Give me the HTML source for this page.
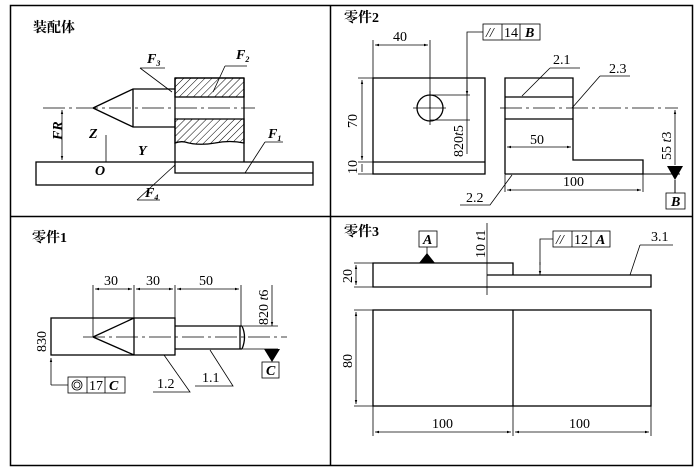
<!DOCTYPE html>
<html><head><meta charset="utf-8"><style>
body{margin:0;background:#fff}
svg{display:block}
text{font-family:"Liberation Serif","Noto Serif CJK SC",serif;font-size:14px;fill:#000}
.t{font-family:"Liberation Serif","Noto Serif CJK SC",serif;font-size:14px;font-weight:bold}
.i{font-style:italic;font-weight:bold}
</style></head><body>
<svg width="700" height="469" viewBox="0 0 700 469" xmlns="http://www.w3.org/2000/svg">
<defs>
<marker id="a" viewBox="0 0 10 10" refX="10" refY="5" markerWidth="7" markerHeight="5" orient="auto-start-reverse"><path d="M0,2 L10,5 L0,8z" fill="#000"/></marker>
<pattern id="h" width="5" height="5" patternUnits="userSpaceOnUse" patternTransform="rotate(45)"><line x1="0" y1="0" x2="0" y2="5" stroke="#000" stroke-width="1"/></pattern>
</defs>
<g fill="none" stroke="#000">
<rect x="10.5" y="5.5" width="682" height="460" stroke-width="1.5"/>
<line x1="330.5" y1="5" x2="330.5" y2="466" stroke-width="1.5"/>
<line x1="10" y1="216.5" x2="693" y2="216.5" stroke-width="1.5"/>
</g>
<!-- Panel 1 -->
<text class="t" x="33" y="32">装配体</text>
<g fill="none" stroke="#000" stroke-width="1.3">
<rect x="36" y="162" width="277" height="23"/>
<rect x="175" y="78" width="69" height="19" fill="url(#h)"/>
<path d="M175,119 H244 V143 Q230,140 215,143 Q198,146 185,142 Q180,141 175,143z" fill="url(#h)"/>
<path d="M175,78 V173 H313 M244,78 V162 M175,78 H244"/>
<path d="M93,108 L133,89 H175 M93,108 L133,127 H175 M133,89 V127"/>
</g>
<g stroke="#000" stroke-width="0.8" fill="none">
<line x1="43" y1="108" x2="255" y2="108" stroke-dasharray="22,4,3,4"/>
<line x1="62" y1="110" x2="62" y2="160" marker-start="url(#a)" marker-end="url(#a)"/>
<line x1="106" y1="135" x2="106" y2="162"/>
<path d="M140,68 H165 M140,68 L172,92"/>
<path d="M225,66 H247 M225,66 L213,92"/>
<path d="M265,142 H283 M265,142 L245,173"/>
<path d="M137,200 H160 M137,200 L175,165"/>
</g>
<text class="i" transform="translate(62,140) rotate(-90)" style="font-size:14px">FR</text>
<text class="i" x="89" y="138">Z</text>
<text class="i" x="95" y="175">O</text>
<text class="i" x="138" y="155">Y</text>
<text class="i" x="147" y="63">F<tspan font-size="8" dy="3">3</tspan></text>
<text class="i" x="236" y="59">F<tspan font-size="8" dy="3">2</tspan></text>
<text class="i" x="268" y="138">F<tspan font-size="8" dy="3">1</tspan></text>
<text class="i" x="145" y="197">F<tspan font-size="8" dy="3">4</tspan></text>
<!-- Panel 2 -->
<text class="t" x="344" y="22">零件2</text>
<g fill="none" stroke="#000" stroke-width="1.3">
<rect x="373" y="78" width="112" height="96"/>
<line x1="373" y1="162" x2="485" y2="162"/>
<circle cx="430" cy="108" r="13"/>
<path d="M505,174 V78 H573 V160 H643 V174 H505 M505,97 H573 M505,119 H573"/>
<line x1="643" y1="174" x2="680" y2="174" stroke-width="1"/>
</g>
<g stroke="#000" stroke-width="0.8" fill="none">
<path d="M413,108 H446 M430,91 V125"/>
<line x1="373" y1="40" x2="373" y2="78"/><line x1="430" y1="40" x2="430" y2="108"/>
<line x1="375" y1="45" x2="428" y2="45" marker-start="url(#a)" marker-end="url(#a)"/>
<path d="M358,78 H373 M358,162 H373 M358,174 H373"/>
<line x1="362" y1="80" x2="362" y2="160" marker-start="url(#a)" marker-end="url(#a)"/>
<line x1="362" y1="164" x2="362" y2="172"/>
<path d="M430,95 H470 M430,120 H470"/>
<path d="M483,32 H467 V154"/>
<line x1="467" y1="80" x2="467" y2="95" marker-end="url(#a)"/>
<rect x="483" y="24" width="57" height="16"/><path d="M502,24 V40 M520,24 V40"/>
<line x1="500" y1="108" x2="678" y2="108" stroke-dasharray="22,4,3,4"/>
<line x1="507" y1="147" x2="571" y2="147" marker-start="url(#a)" marker-end="url(#a)"/>
<path d="M505,174 V192 M643,174 V192"/>
<line x1="507" y1="190" x2="641" y2="190" marker-start="url(#a)" marker-end="url(#a)"/>
<line x1="675" y1="110" x2="675" y2="165" marker-start="url(#a)"/>
<rect x="666" y="193" width="19" height="16"/>
<path d="M550,68 H580 M550,68 L522,96"/>
<path d="M600,76 H630 M600,76 L572,108"/>
<path d="M460,205 H490 L512,175"/>
</g>
<path d="M667,166 H683 L675,180z" fill="#000"/>
<line x1="675" y1="180" x2="675" y2="193" stroke="#000"/>
<text x="393" y="41">40</text>
<text transform="translate(357,128) rotate(-90)">70</text>
<text transform="translate(357,174) rotate(-90)">10</text>
<text transform="translate(463,157) rotate(-90)">820<tspan font-style="italic">t</tspan>5</text>
<text x="486" y="37" font-size="11" font-style="italic">//</text>
<text x="504" y="37">14</text><text class="i" x="525" y="37">B</text>
<text x="530" y="144">50</text>
<text x="563" y="186">100</text>
<text transform="translate(671,160) rotate(-90)">55 <tspan font-style="italic">t</tspan>3</text>
<text class="i" x="671" y="206">B</text>
<text x="553" y="64">2.1</text>
<text x="609" y="73">2.3</text>
<text x="466" y="202">2.2</text>
<!-- Panel 3 -->
<text class="t" x="32" y="242">零件1</text>
<g fill="none" stroke="#000" stroke-width="1.3">
<rect x="51" y="318" width="124" height="37"/>
<path d="M134,318 V355 M93,337 L134,318 M93,337 L134,355"/>
<path d="M175,326 H242 Q247,337 242,349 H175 M240,326 V349"/>
</g>
<g stroke="#000" stroke-width="0.8" fill="none">
<line x1="83" y1="337" x2="287" y2="337" stroke-dasharray="22,4,3,4"/>
<path d="M93,285 V337 M134,285 V318 M175,285 V326 M241,285 V326"/>
<line x1="95" y1="289" x2="132" y2="289" marker-start="url(#a)" marker-end="url(#a)"/>
<line x1="136" y1="289" x2="173" y2="289" marker-start="url(#a)" marker-end="url(#a)"/>
<line x1="177" y1="289" x2="239" y2="289" marker-start="url(#a)" marker-end="url(#a)"/>
<path d="M243,326 H278 M243,349 H278"/>
<line x1="272" y1="285" x2="272" y2="326" marker-end="url(#a)"/>
<rect x="262" y="362" width="17" height="16"/>
<line x1="51" y1="358" x2="51" y2="385" marker-start="url(#a)"/>
<path d="M51,385 H68"/>
<rect x="68" y="377" width="57" height="16"/><path d="M87,377 V393 M105,377 V393"/>
<circle cx="77" cy="385" r="5"/><circle cx="77" cy="385" r="3"/>
<path d="M153,392 H190 L164,355"/>
<path d="M195,386 H233 L210,350"/>
</g>
<path d="M264,349 H280 L272,362z" fill="#000"/>
<text transform="translate(46,352) rotate(-90)">830</text>
<text x="104" y="285">30</text><text x="146" y="285">30</text><text x="199" y="285">50</text>
<text transform="translate(268,325) rotate(-90)">820 <tspan font-style="italic">t</tspan>6</text>
<text class="i" x="266" y="375">C</text>
<text x="89" y="390">17</text><text class="i" x="109" y="390">C</text>
<text x="157" y="388">1.2</text>
<text x="202" y="382">1.1</text>
<!-- Panel 4 -->
<text class="t" x="344" y="236">零件3</text>
<g fill="none" stroke="#000" stroke-width="1.3">
<path d="M373,263 H513 V275 H651 V287 H373z M487,275 H513"/>
<rect x="373" y="310" width="278" height="96"/>
<line x1="513" y1="310" x2="513" y2="406"/>
</g>
<g stroke="#000" stroke-width="0.8" fill="none">
<line x1="487" y1="223" x2="487" y2="295"/>
<path d="M354,263 H373 M354,287 H373"/>
<line x1="356" y1="265" x2="356" y2="285" marker-start="url(#a)" marker-end="url(#a)"/>
<path d="M354,310 H373 M354,406 H373"/>
<line x1="356" y1="312" x2="356" y2="404" marker-start="url(#a)" marker-end="url(#a)"/>
<path d="M373,406 V436 M513,406 V436 M651,406 V436"/>
<line x1="375" y1="432" x2="511" y2="432" marker-start="url(#a)" marker-end="url(#a)"/>
<line x1="515" y1="432" x2="649" y2="432" marker-start="url(#a)" marker-end="url(#a)"/>
<rect x="419" y="231" width="18" height="16"/>
<line x1="427" y1="247" x2="427" y2="255"/>
<rect x="553" y="231" width="57" height="16"/><path d="M572,231 V247 M591,231 V247"/>
<path d="M553,239 H540 V265"/>
<line x1="540" y1="262" x2="540" y2="275" marker-end="url(#a)"/>
<path d="M640,245 H673 M640,245 L630,275"/>
</g>
<path d="M419,263 H435 L427,253z" fill="#000"/>
<text class="i" x="423" y="244">A</text>
<text x="556" y="244" font-size="11" font-style="italic">//</text>
<text x="574" y="244">12</text><text class="i" x="596" y="244">A</text>
<text x="651" y="241">3.1</text>
<text transform="translate(485,258) rotate(-90)">10 <tspan font-style="italic">t</tspan>1</text>
<text transform="translate(352,283) rotate(-90)">20</text>
<text transform="translate(352,368) rotate(-90)">80</text>
<text x="432" y="428">100</text><text x="569" y="428">100</text>
</svg>
</body></html>
